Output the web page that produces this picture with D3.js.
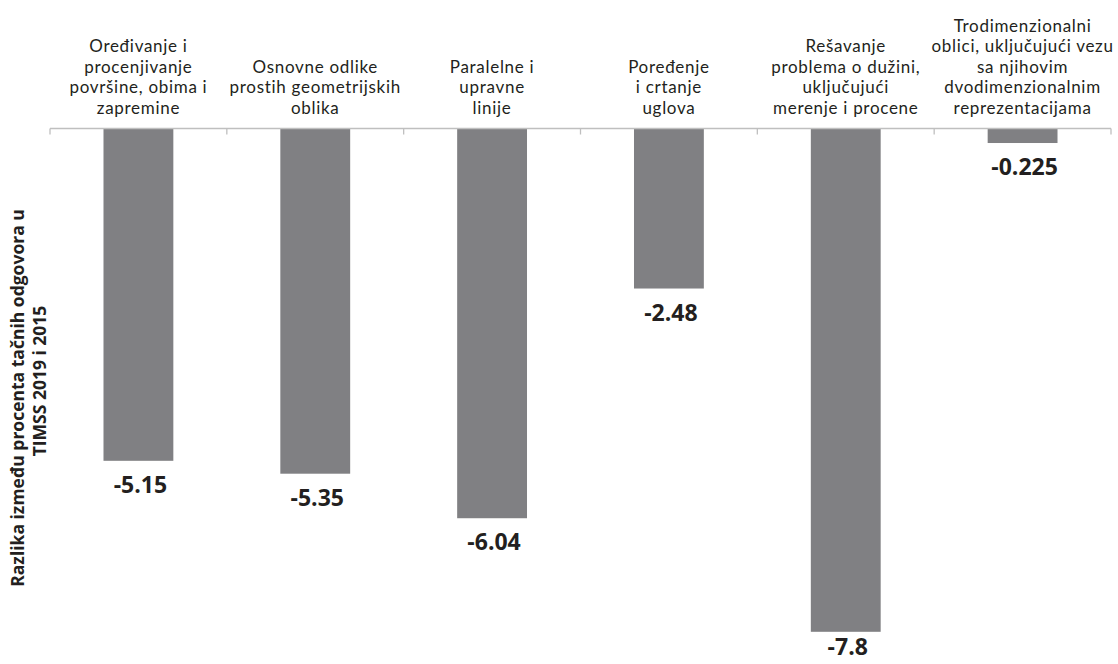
<!DOCTYPE html>
<html>
<head>
<meta charset="utf-8">
<script src="https://cdn.jsdelivr.net/npm/d3@7"></script>
<style>
  html, body { margin: 0; padding: 0; background: #ffffff; }
  svg { display: block; }
  text { font-family: "Open Sans", "Noto Sans", sans-serif; }
  text.cat { font-family: Lato, "Open Sans", sans-serif; }
</style>
</head>
<body>
<svg id="chart" width="1118" height="664"></svg>
<script>
const categories = [
  "Oređivanje i\nprocenjivanje\npovršine, obima i\nzapremine",
  "Osnovne odlike\nprostih geometrijskih\noblika",
  "Paralelne i\nupravne\nlinije",
  "Poređenje\ni crtanje\nuglova",
  "Rešavanje\nproblema o dužini,\nuključujući\nmerenje i procene",
  "Trodimenzionalni\noblici, uključujući vezu\nsa njihovim\ndvodimenzionalnim\nreprezentacijama"
];
const values = [-5.15, -5.35, -6.04, -2.48, -7.8, -0.225];
const valueLabels = ["-5.15", "-5.35", "-6.04", "-2.48", "-7.8", "-0.225"];
const yTitleLines = ["Razlika između procenta tačnih odgovora u", "TIMSS 2019 i 2015"];
const yDomain = [0, -8];

const W = 1118, H = 664;
const svg = d3.select("#chart");
const x = d3.scaleBand().domain(d3.range(categories.length)).range([50, 1111]).padding(0);
const y = d3.scaleLinear().domain(yDomain).range([128.5, 644.7]);
const barW = x.bandwidth() * 0.395;

// bars
svg.append("g").selectAll("rect").data(values).join("rect")
  .attr("x", (d, i) => x(i) + (x.bandwidth() - barW) / 2)
  .attr("y", d => y(0))
  .attr("width", barW)
  .attr("height", d => y(d) - y(0))
  .attr("fill", "#808083");

// axis line at zero with tick marks at band boundaries
const axisG = svg.append("g");
axisG.append("line")
  .attr("x1", x.range()[0]).attr("x2", x.range()[1])
  .attr("y1", y(0)).attr("y2", y(0))
  .attr("stroke", "#bfbfbf").attr("stroke-width", 1.3);
const tickPos = d3.range(categories.length + 1).map(i => x.range()[0] + i * x.step());
axisG.selectAll("line.tick").data(tickPos).join("line")
  .attr("class", "tick")
  .attr("x1", d => d).attr("x2", d => d)
  .attr("y1", y(0)).attr("y2", y(0) + 6)
  .attr("stroke", "#bfbfbf").attr("stroke-width", 1.3);

// category labels (bottom aligned above axis)
const lineH = 20.6;
const lastBaseline = 114;
categories.forEach((c, i) => {
  const lines = c.split("\n");
  const t = svg.append("text")
    .attr("class", "cat")
    .attr("text-anchor", "middle")
    .attr("font-size", 17)
    .attr("letter-spacing", 0.7)
    .attr("fill", "#231f20");
  lines.forEach((ln, j) => {
    t.append("tspan")
      .attr("x", x(i) + x.bandwidth() / 2)
      .attr("y", lastBaseline - (lines.length - 1 - j) * lineH)
      .text(ln);
  });
});

// value labels
svg.append("g").selectAll("text").data(values).join("text")
  .attr("x", (d, i) => x(i) + x.bandwidth() / 2 + 2)
  .attr("y", d => Math.min(y(d) + 32, H - 9))
  .attr("text-anchor", "middle")
  .attr("font-size", 23)
  .attr("font-weight", "bold")
  .attr("fill", "#231f20")
  .text((d, i) => valueLabels[i]);

// y axis title
const titleCenters = [[24, 398], [46, 381]];
yTitleLines.forEach((ln, i) => {
  svg.append("text")
    .attr("transform", `translate(${titleCenters[i][0]},${titleCenters[i][1]}) rotate(-90)`)
    .attr("text-anchor", "middle")
    .attr("font-size", 17.5)
    .attr("font-weight", "bold")
    .attr("fill", "#231f20")
    .text(ln);
});
</script>
</body>
</html>
